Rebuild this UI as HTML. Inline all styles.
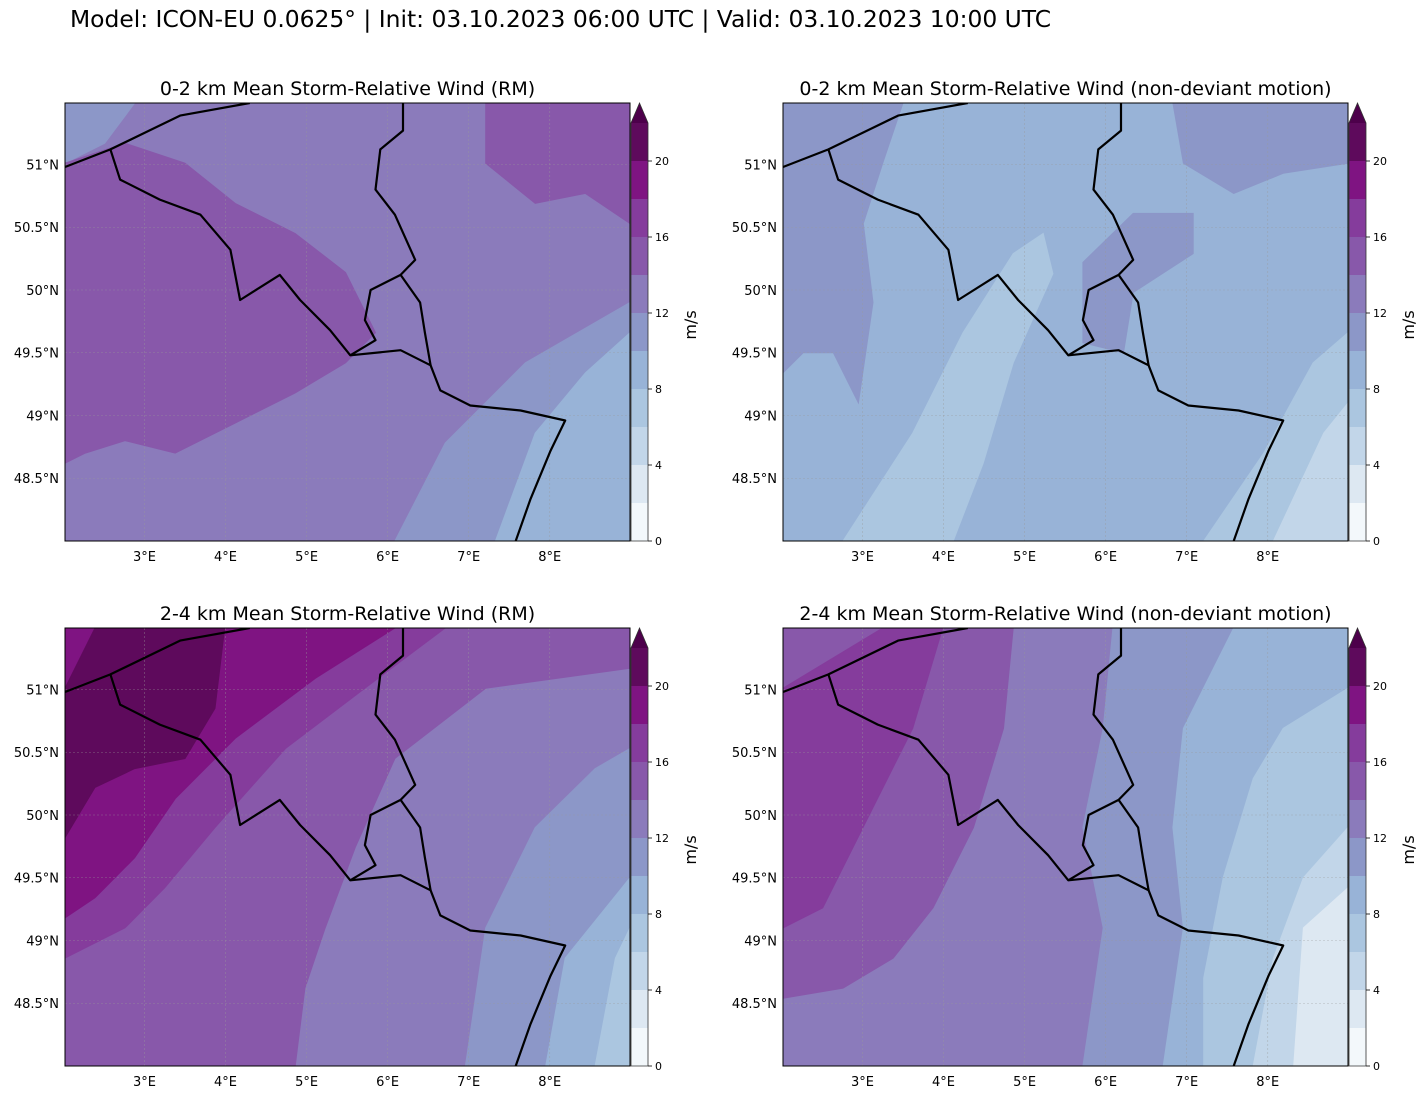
<!DOCTYPE html>
<html><head><meta charset="utf-8">
<style>
html,body{margin:0;padding:0;background:#fff;}
body{width:1424px;height:1094px;overflow:hidden;font-family:"DejaVu Sans","Liberation Sans",sans-serif;}
svg text{font-family:"DejaVu Sans","Liberation Sans",sans-serif;}
</style></head>
<body>
<svg id="chart" width="1424" height="1094" xmlns="http://www.w3.org/2000/svg">
<text x="70" y="27" font-size="23.4" fill="#000">Model: ICON-EU 0.0625° | Init: 03.10.2023 06:00 UTC | Valid: 03.10.2023 10:00 UTC</text>
</svg>
<script>
// ---- data ----
const levels = [0,2,4,6,8,10,12,14,16,18,20,22];
const levelColors = ["#f3f8fb","#dde8f2","#c2d6e9","#abc6e0","#98b3d7","#8c97c8","#8b7bbb","#8858aa","#853c9c","#7f1482","#5e0a5c"];
const extendColor = "#4d004b";
const cbTicks = [0,4,8,12,16,20];
const lonTicks = [3,4,5,6,7,8];
const latTicks = [51,50.5,50,49.5,49,48.5];
const lonTickLabels = ["3°E","4°E","5°E","6°E","7°E","8°E"];
const latTickLabels = ["51°N","50.5°N","50°N","49.5°N","49°N","48.5°N"];
const panelTitles = ["0-2 km Mean Storm-Relative Wind (RM)","0-2 km Mean Storm-Relative Wind (non-deviant motion)","2-4 km Mean Storm-Relative Wind (RM)","2-4 km Mean Storm-Relative Wind (non-deviant motion)"];
const baseLevel = [6,4,6,6];
// regions: [levelIndex, [[lon,lat],...]]
const regionsP1 = [
 [5,[[2.02,51.49],[2.88,51.49],[2.51,51.17],[2.02,51.01]]],
 [7,[[2.02,51.01],[2.76,51.17],[3.50,51.01],[4.12,50.69],[4.86,50.45],[5.48,50.14],[5.85,49.66],[5.48,49.42],[4.86,49.18],[4.12,48.94],[3.38,48.70],[2.76,48.80],[2.27,48.70],[2.02,48.62]]],
 [7,[[7.21,51.49],[8.99,51.49],[8.99,50.53],[8.44,50.77],[7.82,50.69],[7.21,51.01]]],
 [5,[[6.09,48.0],[6.71,48.78],[7.70,49.42],[8.99,49.90],[8.99,48.0]]],
 [4,[[7.33,48.0],[7.82,48.86],[8.44,49.34],[8.99,49.66],[8.99,48.0]]]
];
const regionsP2 = [
 [5,[[2.02,51.49],[3.50,51.49],[3.25,51.01],[3.01,50.53],[3.13,49.90],[2.95,49.10],[2.64,49.50],[2.27,49.50],[2.02,49.34]]],
 [5,[[5.72,50.22],[6.34,50.61],[7.08,50.61],[7.08,50.29],[6.34,49.98],[6.22,49.50],[5.72,49.58]]],
 [5,[[6.83,51.49],[8.99,51.49],[8.99,51.01],[8.19,50.93],[7.58,50.77],[6.96,51.01]]],
 [3,[[2.76,48.0],[3.62,48.86],[4.24,49.66],[4.86,50.29],[5.23,50.45],[5.35,50.13],[4.86,49.42],[4.49,48.62],[4.12,48.0]]],
 [3,[[7.21,48.0],[7.95,48.70],[8.56,49.42],[8.99,49.66],[8.99,48.0]]],
 [2,[[8.07,48.0],[8.69,48.86],[8.99,49.10],[8.99,48.0]]]
];
const regionsP3 = [
 [7,[[2.02,51.49],[8.99,51.49],[8.99,51.17],[7.21,51.01],[6.09,50.45],[5.60,49.74],[5.23,49.10],[4.98,48.62],[4.86,48.0],[2.02,48.0]]],
 [8,[[2.02,51.49],[6.71,51.49],[5.72,51.01],[4.74,50.53],[3.87,49.90],[3.25,49.42],[2.76,49.10],[2.02,48.86]]],
 [9,[[2.02,51.49],[6.09,51.49],[5.11,51.09],[4.12,50.61],[3.38,50.13],[2.88,49.66],[2.39,49.34],[2.02,49.18]]],
 [10,[[2.39,51.49],[3.99,51.49],[3.87,50.85],[3.50,50.45],[2.88,50.37],[2.39,50.22],[2.02,49.82],[2.02,51.01]]],
 [5,[[6.96,48.0],[7.21,49.10],[7.82,49.90],[8.56,50.37],[8.99,50.53],[8.99,48.0]]],
 [4,[[7.95,48.0],[8.19,48.86],[8.99,49.50],[8.99,48.0]]],
 [3,[[8.56,48.0],[8.81,48.86],[8.99,49.10],[8.99,48.0]]]
];
const regionsP4 = [
 [7,[[2.02,51.49],[4.86,51.49],[4.74,50.69],[4.37,49.90],[3.87,49.26],[3.38,48.86],[2.76,48.62],[2.02,48.54]]],
 [8,[[2.02,51.01],[3.25,51.49],[3.99,51.49],[3.62,50.69],[3.13,50.06],[2.51,49.26],[2.02,49.10]]],
 [5,[[6.09,51.49],[8.99,51.49],[8.99,48.0],[5.72,48.0],[5.97,49.10],[5.72,49.90],[5.97,50.69]]],
 [4,[[6.96,50.69],[7.58,51.49],[8.99,51.49],[8.99,48.0],[6.71,48.0],[6.96,49.10],[6.83,49.90]]],
 [3,[[7.45,49.50],[7.82,50.29],[8.19,50.69],[8.99,51.01],[8.99,48.0],[7.21,48.0],[7.21,48.70]]],
 [2,[[7.82,48.0],[8.07,48.86],[8.44,49.50],[8.99,49.90],[8.99,48.0]]],
 [1,[[8.32,48.0],[8.44,49.10],[8.99,49.42],[8.99,48.0]]]
];
const allRegions = [regionsP1,regionsP2,regionsP3,regionsP4];
const coastLine = [[2.02,50.98],[2.58,51.12],[3.44,51.39],[4.30,51.49]];
const borderFrBe = [[2.58,51.12],[2.70,50.88],[3.19,50.72],[3.69,50.60],[4.06,50.32],[4.18,49.92],[4.67,50.12],[4.92,49.92],[5.29,49.68],[5.54,49.48],[6.16,49.52],[6.53,49.40],[6.65,49.20],[7.02,49.08],[7.64,49.04],[8.19,48.96],[8.01,48.72],[7.76,48.33],[7.58,48.0]];
const borderBeDe = [[6.19,51.49],[6.19,51.27],[5.91,51.12],[5.85,50.80],[6.09,50.60],[6.34,50.24],[6.16,50.12],[5.79,50.0],[5.72,49.76],[5.85,49.60],[5.54,49.48]];
const borderLux = [[6.16,50.12],[6.40,49.90],[6.46,49.66],[6.53,49.40]];
const borders = [coastLine,borderFrBe,borderBeDe,borderLux];

// ---- layout ----
const NS="http://www.w3.org/2000/svg";
const svg=document.getElementById('chart');
const panels=[{x:65,y:103},{x:783,y:103},{x:65,y:628},{x:783,y:628}];
const W=565,H=438,LON0=2.02,LON1=8.99,LAT0=48.0,LAT1=51.49;
function el(t,a,p){const e=document.createElementNS(NS,t);for(const k in a)e.setAttribute(k,a[k]);(p||svg).appendChild(e);return e;}
panels.forEach((p,i)=>{
 const xs=lon=>p.x+(lon-LON0)/(LON1-LON0)*W;
 const ys=lat=>p.y+(LAT1-lat)/(LAT1-LAT0)*H;
 const g=el('g',{});
 
 
 const cp=el('clipPath',{id:'clip'+i},g);
 el('rect',{x:p.x,y:p.y,width:W,height:H},cp);
 const bg=el('rect',{x:p.x,y:p.y,width:W,height:H,fill:levelColors[baseLevel[i]]},g);
 
 
 const fg=el('g',{'clip-path':'url(#clip'+i+')'},g);
 allRegions[i].forEach((r,j)=>{
  const pts=r[1].map(q=>xs(q[0]).toFixed(1)+','+ys(q[1]).toFixed(1)).join(' ');
  const pg=el('polygon',{points:pts,fill:levelColors[r[0]],stroke:levelColors[r[0]],'stroke-width':1},fg);
  
  
 });
 lonTicks.forEach((lon,k)=>{
  const gl=el('line',{x1:xs(lon),x2:xs(lon),y1:p.y,y2:p.y+H,stroke:'#999','stroke-width':0.6,'stroke-dasharray':'2,2',opacity:0.6},fg);
  
  
  const tl=el('text',{x:xs(lon),y:p.y+H+20,'font-size':13,'text-anchor':'middle'},g);
  tl.textContent=lonTickLabels[k];
  
  
 });
 latTicks.forEach((lat,k)=>{
  const gl=el('line',{x1:p.x,x2:p.x+W,y1:ys(lat),y2:ys(lat),stroke:'#999','stroke-width':0.6,'stroke-dasharray':'2,2',opacity:0.6},fg);
  
  
  const tl=el('text',{x:p.x-6,y:ys(lat)+5,'font-size':13,'text-anchor':'end'},g);
  tl.textContent=latTickLabels[k];
  
  
 });
 borders.forEach(b=>{
  const pl=el('polyline',{points:b.map(q=>xs(q[0]).toFixed(1)+','+ys(q[1]).toFixed(1)).join(' '),fill:'none',stroke:'#000','stroke-width':2.2,'stroke-linejoin':'round'},fg);
  
  
 });
 const fr=el('rect',{x:p.x,y:p.y,width:W,height:H,fill:'none',stroke:'#000','stroke-width':1},g);
 
 
 const tt=el('text',{x:p.x+W/2,y:p.y-8,'font-size':19,'text-anchor':'middle'},g);
 tt.textContent=panelTitles[i];
 
 
 // colorbar
 const cx=p.x+W+1,cw=17,cb=p.y+H,ppu=19;
 const cy=v=>cb-v*ppu;
 const cg=el('g',{},g);
 
 
 for(let k=0;k<levels.length-1;k++){
  const r=el('rect',{x:cx,y:cy(levels[k+1]),width:cw,height:cy(levels[k])-cy(levels[k+1]),fill:levelColors[k]},cg);
  
  
 }
 const top=cy(levels[levels.length-1]);
 const tri=el('polygon',{points:`${cx},${top} ${cx+cw/2},${p.y} ${cx+cw},${top}`,fill:extendColor},cg);
 
 
 el('path',{d:`M${cx},${cb} L${cx},${top} L${cx+cw/2},${p.y} L${cx+cw},${top} L${cx+cw},${cb} Z`,fill:'none',stroke:'#333','stroke-width':0.8},cg);
 cbTicks.forEach(v=>{
  el('line',{x1:cx+cw,x2:cx+cw+4,y1:cy(v),y2:cy(v),stroke:'#000','stroke-width':0.8},cg);
  const t=el('text',{x:cx+cw+7,y:cy(v)+4,'font-size':11},cg);
  t.textContent=v;
  
  
 });
 const ml=el('text',{x:0,y:0,'font-size':16,'text-anchor':'middle',transform:`translate(${cx+cw+48},${p.y+H/2+3}) rotate(-90)`},cg);
 ml.textContent='m/s';
 
 
});
</script>
</body></html>
